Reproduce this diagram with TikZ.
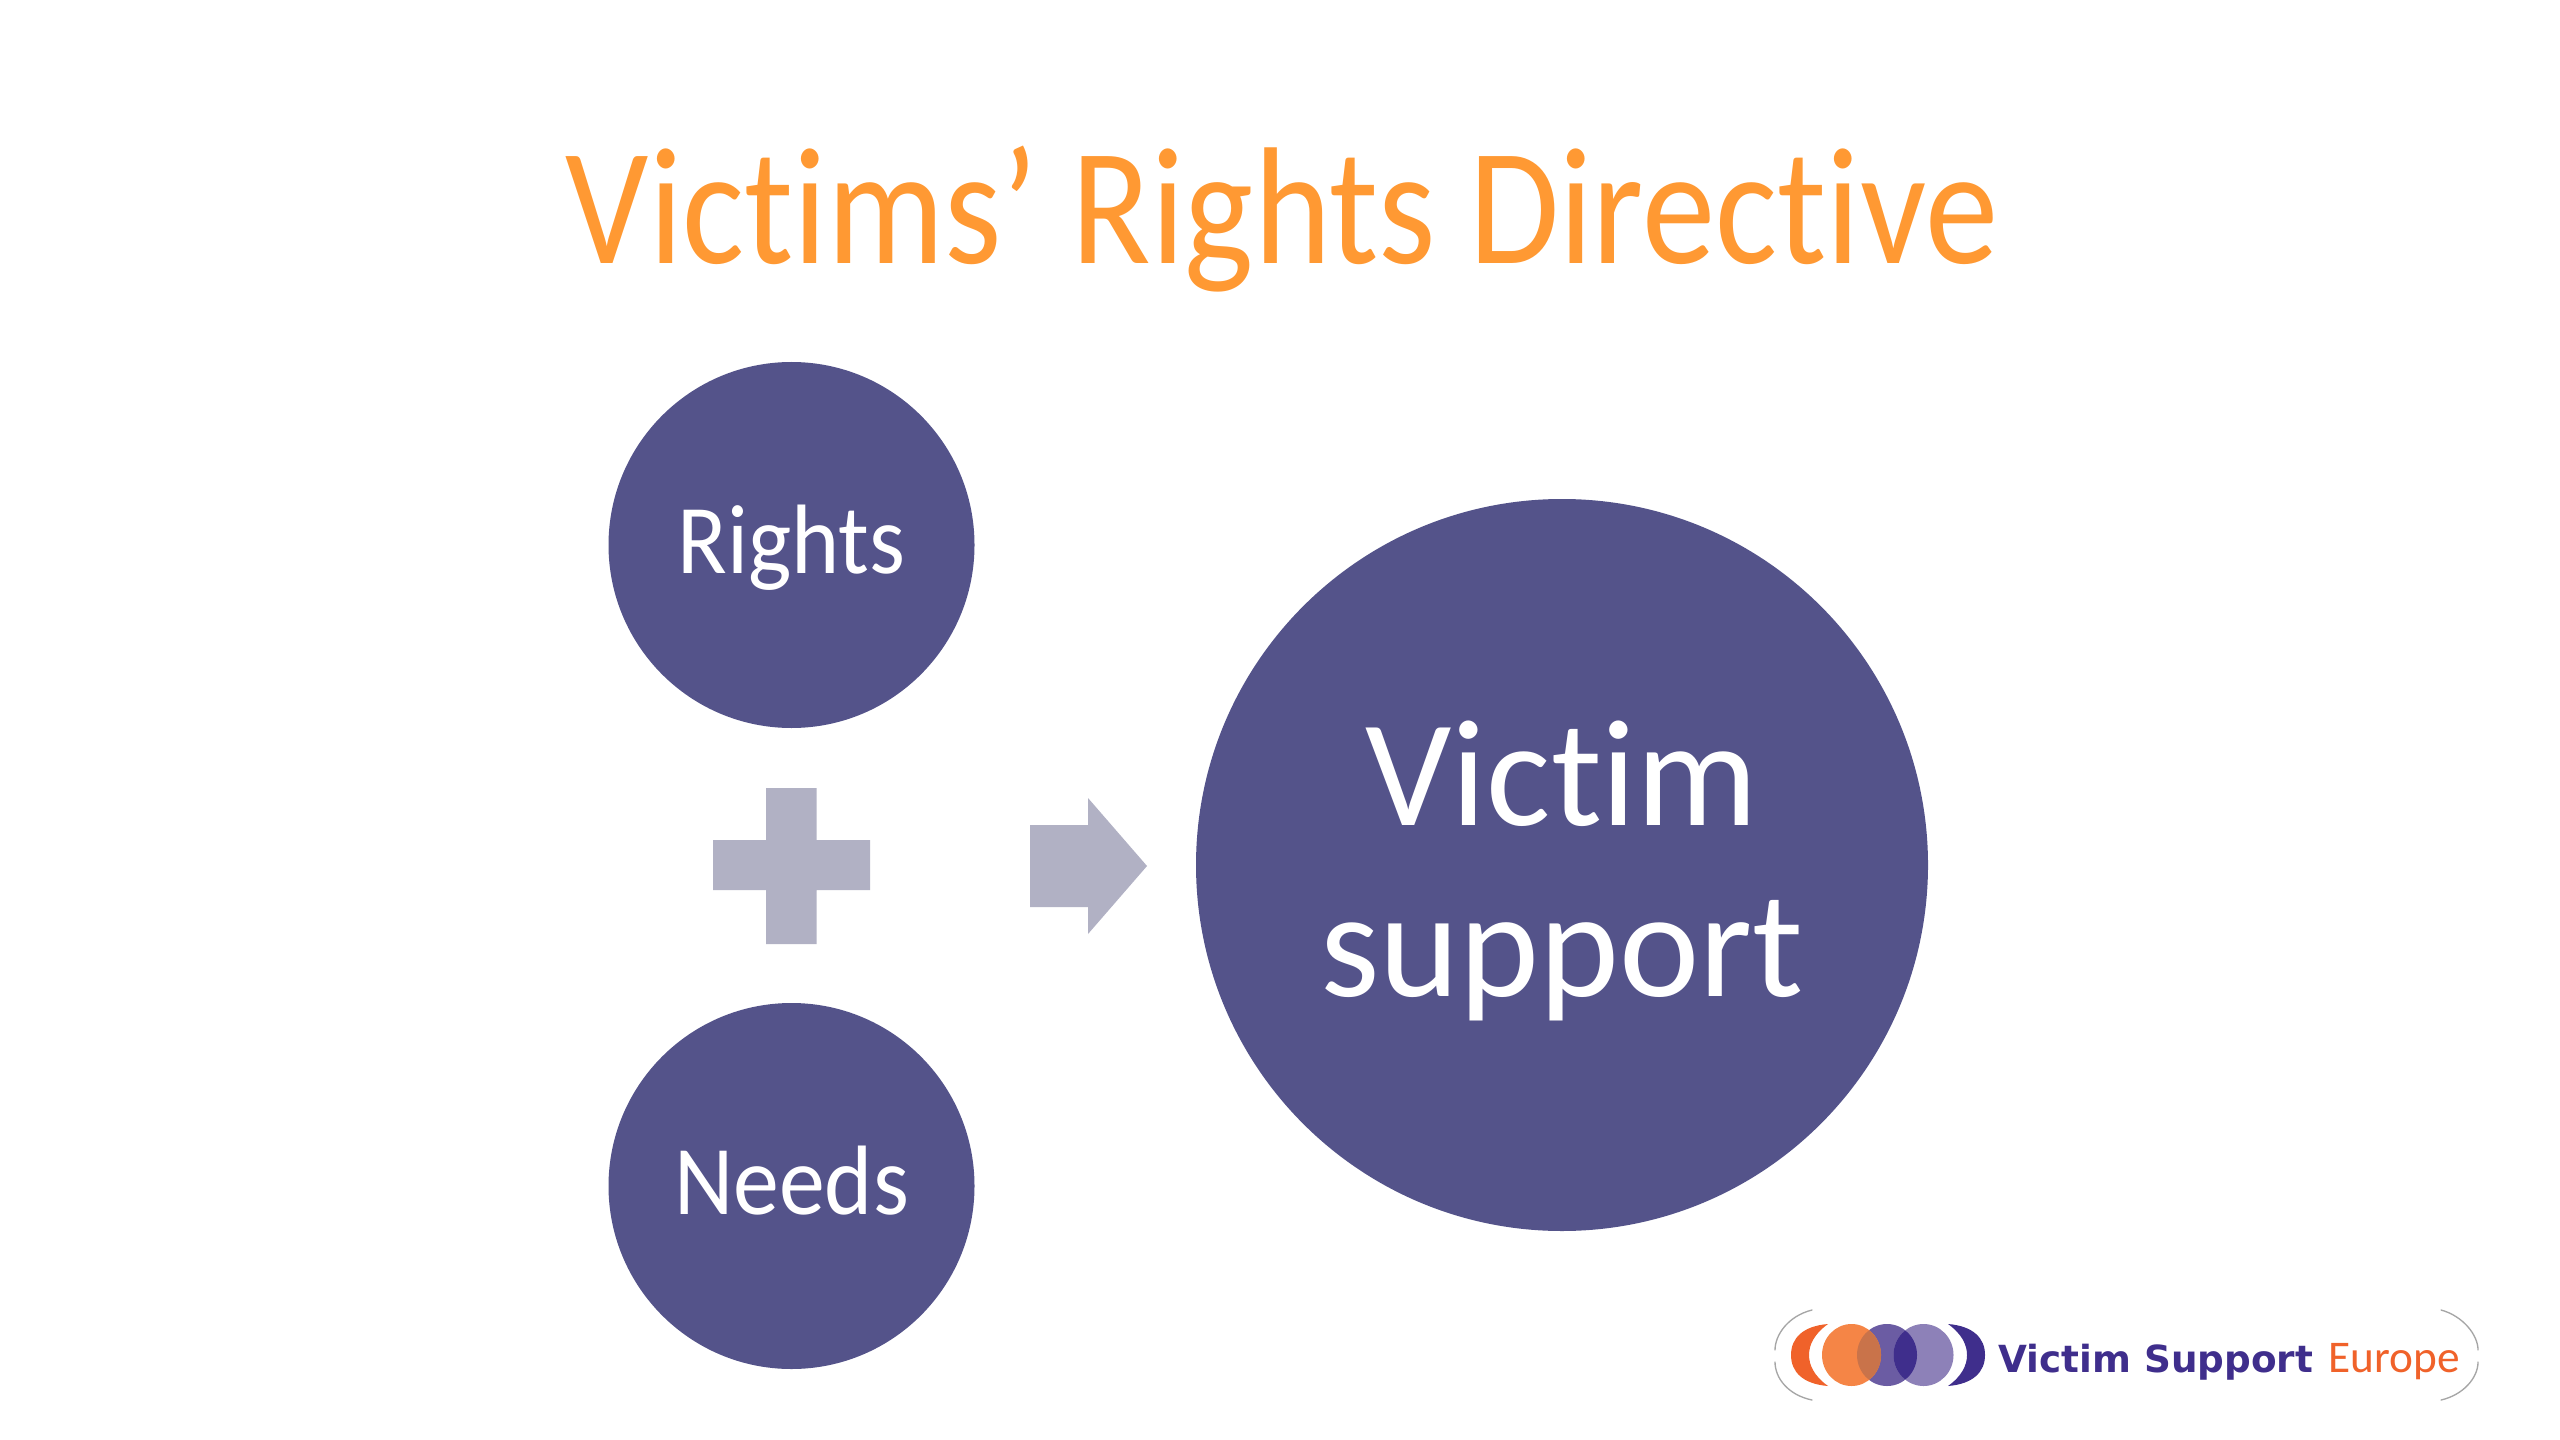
\documentclass[tikz,border=0pt]{standalone}
\usepackage{fontspec}
\setmainfont[Ligatures=NoCommon]{Carlito}
\newfontfamily\titlefont[Ligatures=NoCommon,FakeStretch=0.88]{Carlito}
\newfontfamily\discfont[Ligatures=NoCommon,FakeStretch=0.93]{Carlito}
\newfontfamily\logofont{DejaVu Sans}
\definecolor{disc}{HTML}{54538A}
\definecolor{pale}{HTML}{B1B1C4}
\definecolor{titleor}{HTML}{FF9933}
\definecolor{logoor}{HTML}{F0622A}
\definecolor{logodk}{HTML}{3F2E8C}
\definecolor{ellor}{HTML}{F58546}
\definecolor{ellmix}{HTML}{C9734A}
\definecolor{ellpa}{HTML}{6B5CA3}
\definecolor{ellpb}{HTML}{8D81B8}
\tikzset{
  x=0.375pt,y=-0.375pt,
  smalldisc/.style={circle,fill=disc,text=white,inner sep=0pt,minimum size=137.25pt,text height=25pt,text depth=4pt,font=\discfont\fontsize{37}{44}\selectfont},
  bigdisc/.style={circle,fill=disc,text=white,inner sep=0pt,minimum size=274.5pt,align=center,font=\fontsize{57}{64}\selectfont},
  sign/.style={fill=pale,draw=none},
  logoarc/.style={draw=gray!70,line width=0.5pt,line cap=round},
}
\begin{document}
\begin{tikzpicture}
\useasboundingbox[fill=white] (0,0) rectangle (2560,1440);
\node[text=titleor,font=\titlefont\fontsize{62.5}{70}\selectfont,inner sep=0pt,anchor=base] (title) at (1282,264) {Victims’ Rights Directive};
\node[smalldisc] (rights) at (791.5,545) {Rights};
\node[smalldisc] (needs) at (791.5,1186) {Needs};
\node[bigdisc] (support) at (1562,865) {\rule{0pt}{43.5pt}Victim\\support};
% plus
\fill[sign] (766,788) -- (816.5,788) -- (816.5,840) -- (870,840) -- (870,890) -- (816.5,890) -- (816.5,944) -- (766,944) -- (766,890) -- (713,890) -- (713,840) -- (766,840) -- cycle;
% arrow
\fill[sign] (1030,825) -- (1088,825) -- (1088,798) -- (1147,866) -- (1088,934) -- (1088,907) -- (1030,907) -- cycle;
% logo
\fill[logoor] (1828,1324) .. controls (1803,1326) and (1791,1338) .. (1791,1355) .. controls (1791,1372) and (1803,1384) .. (1828,1386) .. controls (1814,1376) and (1809,1365) .. (1809,1355) .. controls (1809,1345) and (1814,1334) .. (1828,1324) -- cycle;
\fill[logodk] (1948,1324) .. controls (1973,1326) and (1985,1338) .. (1985,1355) .. controls (1985,1372) and (1973,1384) .. (1948,1386) .. controls (1962,1376) and (1967,1365) .. (1967,1355) .. controls (1967,1345) and (1962,1334) .. (1948,1324) -- cycle;
\fill[ellpa] (1887,1355) ellipse [x radius=30,y radius=31];
\fill[ellpb] (1923.5,1355) ellipse [x radius=30,y radius=31];
\begin{scope}
\clip (1887,1355) ellipse [x radius=30,y radius=31];
\fill[logodk] (1923.5,1355) ellipse [x radius=30,y radius=31];
\end{scope}
\fill[ellor] (1851.5,1355) ellipse [x radius=29.5,y radius=31];
\begin{scope}
\clip (1851.5,1355) ellipse [x radius=29.5,y radius=31];
\fill[ellmix] (1887,1355) ellipse [x radius=30,y radius=31];
\end{scope}
\draw[logoarc] (1812,1310) .. controls (1788,1316) and (1775,1335) .. (1775,1350);
\draw[logoarc] (1775,1362) .. controls (1775,1378) and (1788,1395) .. (1812,1400);
\draw[logoarc] (2441,1310) .. controls (2463,1316) and (2478,1335) .. (2478,1350);
\draw[logoarc] (2478,1362) .. controls (2478,1378) and (2463,1395) .. (2441,1400);
\node[anchor=base west,inner sep=0pt,text=logodk,font=\logofont\bfseries\fontsize{14}{16}\selectfont] (vs) at (1998,1372) {Victim Support};
\node[anchor=base west,inner sep=0pt,text=logoor,font=\fontsize{17}{20}\selectfont] (eu) at (2328,1372) {Europe};
\end{tikzpicture}
\end{document}
